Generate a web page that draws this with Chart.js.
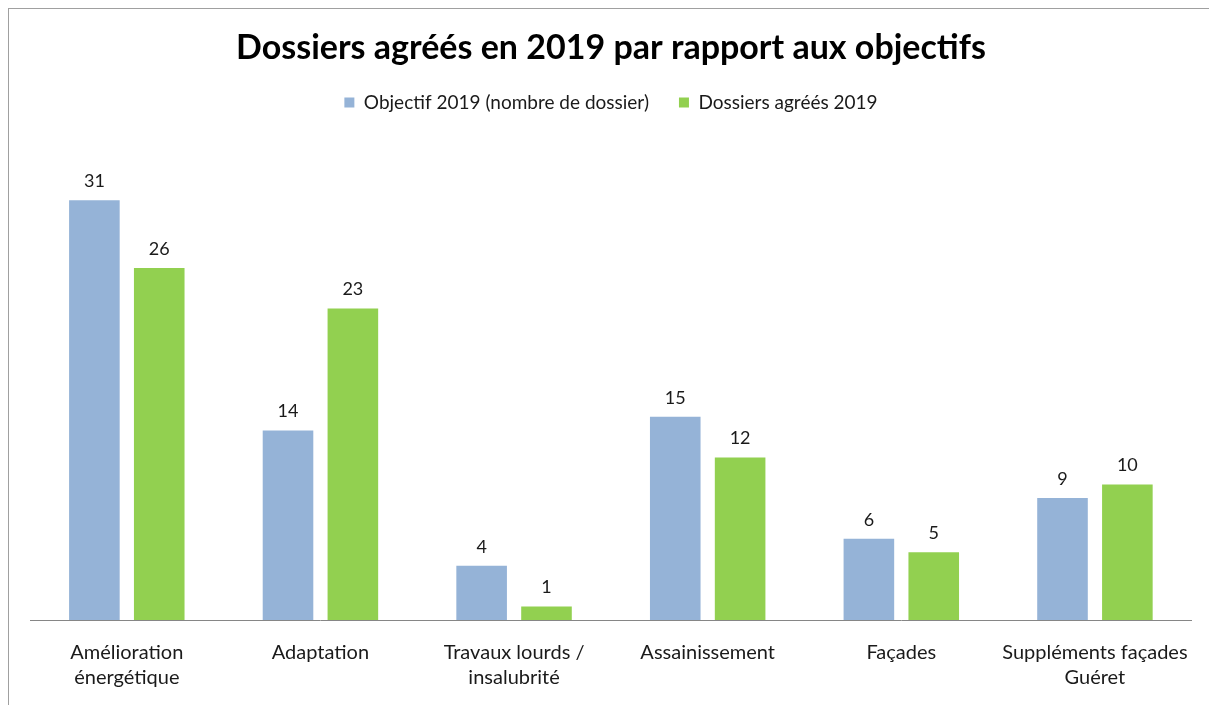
<!DOCTYPE html>
<html>
<head>
<meta charset="utf-8">
<script src="https://cdn.jsdelivr.net/npm/chart.js@4"></script>
<style>
  html, body { margin: 0; padding: 0; background: #fff; overflow: hidden; }
  #wrap { position: relative; width: 1209px; height: 705px; }
  #frame { position: absolute; left: 8px; top: 8px; width: 1230px; height: 720px; border: 1px solid #a0a0a0; pointer-events: none; }
</style>
</head>
<body>
<div id="wrap">
  <canvas id="myChart" width="1209" height="705"></canvas>
  <div id="frame"></div>
</div>
<script>
var categories = [
  ['Amélioration', 'énergétique'],
  'Adaptation',
  ['Travaux lourds /', 'insalubrité'],
  'Assainissement',
  'Façades',
  ['Suppléments façades', 'Guéret']
];
var objectifs = [31, 14, 4, 15, 6, 9];
var agrees = [26, 23, 1, 12, 5, 10];

var FONT = 'Lato, "Open Sans", sans-serif';

// value labels on top of each bar
var barLabels = {
  id: 'barLabels',
  afterDatasetsDraw: function(chart) {
    var ctx = chart.ctx;
    ctx.save();
    ctx.font = '18px ' + FONT;
    ctx.fillStyle = '#1a1a1a';
    ctx.textAlign = 'center';
    ctx.textBaseline = 'bottom';
    chart.data.datasets.forEach(function(ds, i) {
      chart.getDatasetMeta(i).data.forEach(function(bar, j) {
        ctx.fillText(ds.data[j], bar.x, bar.y - 10);
      });
    });
    ctx.restore();
  }
};

// extra room under the legend
var legendSpace = {
  id: 'legendSpace',
  beforeInit: function(chart) {
    var fit = chart.legend.fit;
    chart.legend.fit = function() {
      fit.bind(chart.legend)();
      this.height += 24;
    };
  }
};

var ctx = document.getElementById('myChart').getContext('2d');
var myChart = new Chart(ctx, {
  type: 'bar',
  data: {
    labels: categories,
    datasets: [{
      label: 'Objectif 2019 (nombre de dossier)',
      data: objectifs,
      backgroundColor: '#95b3d7'
    }, {
      label: 'Dossiers agréés 2019',
      data: agrees,
      backgroundColor: '#92d050'
    }]
  },
  options: {
    responsive: false,
    animation: false,
    categoryPercentage: 0.67,
    barPercentage: 0.78,
    layout: { padding: { left: 30, right: 17, top: 0, bottom: -5 } },
    scales: {
      x: {
        grid: { display: false, drawTicks: false },
        border: { display: true, color: '#868686', width: 1 },
        ticks: {
          padding: 20,
          color: '#1a1a1a',
          font: { family: FONT, size: 20, lineHeight: '25px' },
          maxRotation: 0
        }
      },
      y: {
        display: false,
        min: 0,
        max: 35
      }
    },
    plugins: {
      title: {
        display: true,
        text: 'Dossiers agréés en 2019 par rapport aux objectifs',
        color: '#000',
        font: { family: FONT, size: 34, weight: 'bold', lineHeight: '40px' },
        padding: { top: 28, bottom: -5 }
      },
      legend: {
        position: 'top',
        labels: {
          boxWidth: 10,
          boxHeight: 10,
          padding: 30,
          color: '#1a1a1a',
          font: { family: FONT, size: 19 }
        }
      },
      tooltip: { enabled: false }
    }
  },
  plugins: [barLabels, legendSpace]
});
</script>
</body>
</html>
